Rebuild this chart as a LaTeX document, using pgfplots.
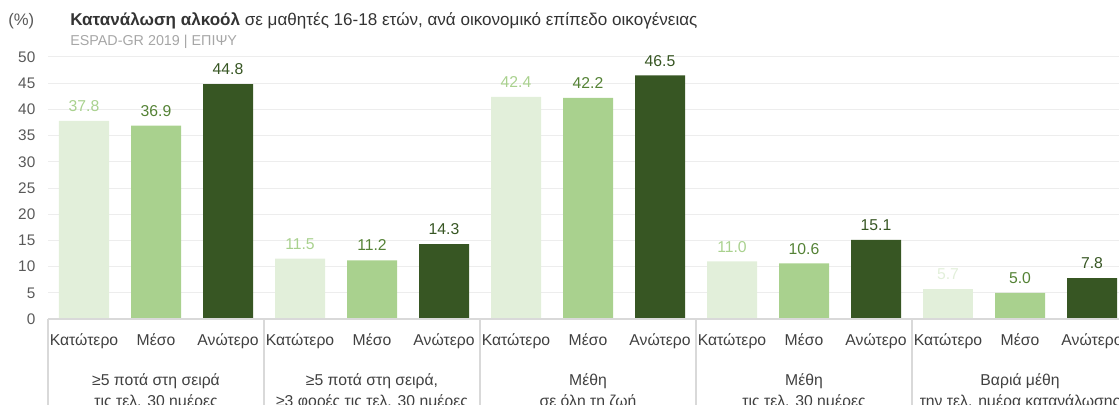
\documentclass[border=0pt]{standalone}
\usepackage{fontspec}
\setmainfont{Liberation Sans}
\usepackage{pgfplots}
\pgfplotsset{compat=1.18}
\definecolor{cLow}{HTML}{E2EFDA}
\definecolor{cMid}{HTML}{A9D18E}
\definecolor{cHigh}{HTML}{375623}
\definecolor{cMidT}{HTML}{548235}
\definecolor{tick}{HTML}{595959}
\definecolor{lab}{HTML}{404040}
\definecolor{sep}{HTML}{D9D9D9}
\definecolor{sub}{HTML}{A6A6A6}
\begin{document}
\begin{tikzpicture}
\begin{axis}[
  x=54pt, y=3.93pt,
  xmin=-0.5, xmax=14.375, ymin=0, ymax=50,
  ybar, bar width=37.5pt, bar shift=0pt,
  axis line style={draw=none}, major tick length=0pt,
  ytick={0,5,...,50},
  ymajorgrids, grid style={draw=black!7, line width=0.75pt},
  xtick={0,...,14},
  xticklabels={Κατώτερο,Μέσο,Ανώτερο,Κατώτερο,Μέσο,Ανώτερο,Κατώτερο,Μέσο,Ανώτερο,Κατώτερο,Μέσο,Ανώτερο,Κατώτερο,Μέσο,Ανώτερο},
  xticklabel style={anchor=base, yshift=-20pt, font=\fontsize{11.8}{14}\selectfont, text=lab},
  yticklabel style={font=\fontsize{11.5}{14}\selectfont, text=tick, xshift=-6pt},
  /pgf/number format/assume math mode=true,
  clip=false,
  nodes near coords,
  nodes near coords style={anchor=base, yshift=7pt, font=\fontsize{11.8}{14}\selectfont,
    /pgf/number format/fixed, /pgf/number format/fixed zerofill, /pgf/number format/precision=1},
]
\addplot[fill=cLow, draw=none, nodes near coords style={text=cMid}]
  coordinates {(0,37.8) (3,11.5) (6,42.4) (9,11.0)};
\addplot[fill=cLow, draw=none, nodes near coords style={text=cLow}]
  coordinates {(12,5.7)};
\addplot[fill=cMid, draw=none, nodes near coords style={text=cMidT}]
  coordinates {(1,36.9) (4,11.2) (7,42.2) (10,10.6) (13,5.0)};
\addplot[fill=cHigh, draw=none, nodes near coords style={text=cHigh}]
  coordinates {(2,44.8) (5,14.3) (8,46.5) (11,15.1) (14,7.8)};

\draw[sep, line width=1.2pt] (axis cs:-0.5,0) -- (axis cs:14.375,0);
\pgfplotsinvokeforeach{-0.5,2.5,5.5,8.5,11.5}{
  \draw[sep, line width=0.9pt] (axis cs:#1,0) -- ++(0pt,-70pt);
}

\tikzset{grp/.style={anchor=base, font=\fontsize{11.8}{14}\selectfont, text=lab}}
\node[grp, yshift=-50pt] at (axis cs:1,0) {≥5 ποτά στη σειρά};
\node[grp, yshift=-65.5pt] at (axis cs:1,0) {τις τελ. 30 ημέρες};
\node[grp, yshift=-50pt] at (axis cs:4,0) {≥5 ποτά στη σειρά,};
\node[grp, yshift=-65.5pt] at (axis cs:4,0) {≥3 φορές τις τελ. 30 ημέρες};
\node[grp, yshift=-50pt] at (axis cs:7,0) {Μέθη};
\node[grp, yshift=-65.5pt] at (axis cs:7,0) {σε όλη τη ζωή};
\node[grp, yshift=-50pt] at (axis cs:10,0) {Μέθη};
\node[grp, yshift=-65.5pt] at (axis cs:10,0) {τις τελ. 30 ημέρες};
\node[grp, yshift=-50pt] at (axis cs:13,0) {Βαριά μέθη};
\node[grp, yshift=-65.5pt] at (axis cs:13,0) {την τελ. ημέρα κατανάλωσης};

\coordinate (BL) at (rel axis cs:0,0);
\coordinate (TL) at (rel axis cs:0,1);
\coordinate (TR) at (rel axis cs:1,1);
\end{axis}
\node[anchor=base west, inner sep=0pt, font=\fontsize{12.5}{15}\selectfont, text=tick]
  at ([shift={(-30pt,23.25pt)}]TL) {(\%)};
\node[anchor=base west, inner sep=0pt, font=\fontsize{12.8}{15}\selectfont, text=black!80]
  at ([shift={(16.5pt,23.25pt)}]TL) {\textbf{Κατανάλωση αλκοόλ} σε μαθητές 16-18 ετών, ανά οικονομικό επίπεδο οικογένειας};
\node[anchor=base west, inner sep=0pt, font=\fontsize{10.75}{12}\selectfont, text=sub]
  at ([shift={(16.5pt,8.25pt)}]TL) {ESPAD-GR 2019 | ΕΠΙΨΥ};
\pgfresetboundingbox
\path[use as bounding box] ([shift={(-36pt,-63.75pt)}]BL) rectangle ([shift={(0pt,42.75pt)}]TR);
\end{tikzpicture}
\end{document}
